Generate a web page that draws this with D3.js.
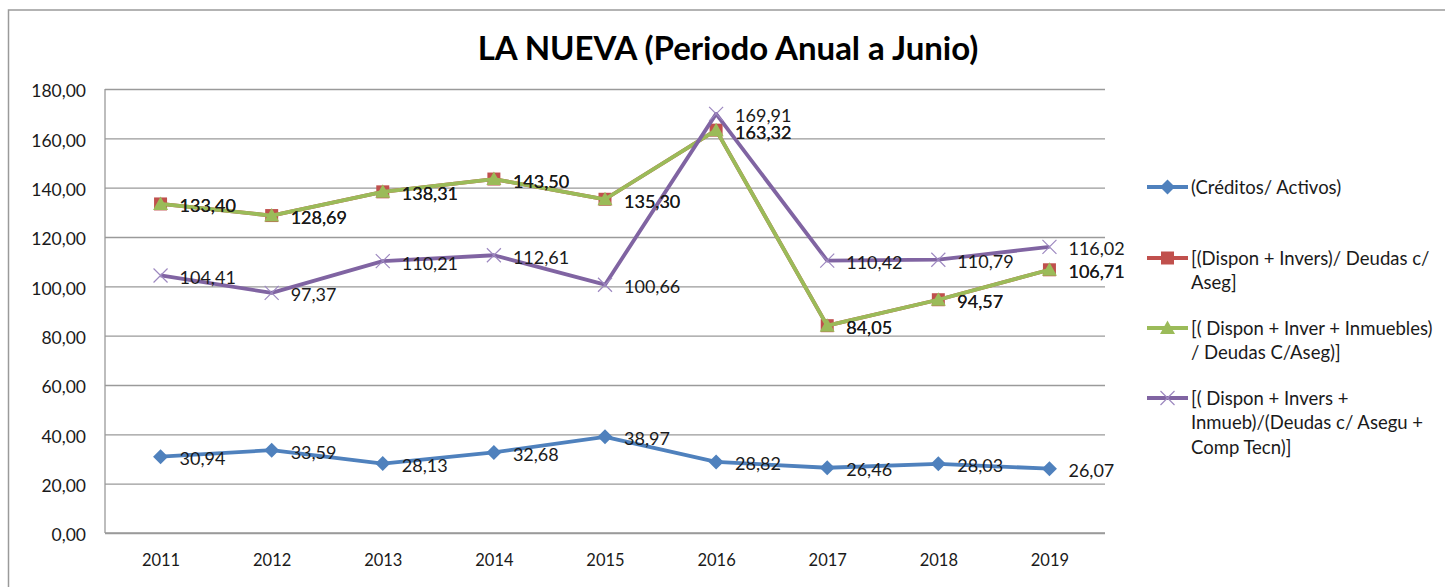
<!DOCTYPE html>
<html>
<head>
<meta charset="utf-8">
<script src="https://cdn.jsdelivr.net/npm/d3@7"></script>
<style>
  body { margin: 0; background: #fff; overflow: hidden; }
  text { font-family: Lato, "Open Sans", sans-serif; fill: #1a1a1a; }
</style>
</head>
<body>
<script>
var width = 1445,
    height = 587;

var margin = {top: 89, right: 340, bottom: 54, left: 105},
    graphWidth = width - margin.left - margin.right,
    graphHeight = height - margin.top - margin.bottom;

// data
var years = ["2011", "2012", "2013", "2014", "2015", "2016", "2017", "2018", "2019"];
var creditos = [30.94, 33.59, 28.13, 32.68, 38.97, 28.82, 26.46, 28.03, 26.07];
var disponInvers = [133.40, 128.69, 138.31, 143.50, 135.30, 163.32, 84.05, 94.57, 106.71];
var disponInmuebles = [133.40, 128.69, 138.31, 143.50, 135.30, 163.32, 84.05, 94.57, 106.71];
var disponCompTecn = [104.41, 97.37, 110.21, 112.61, 100.66, 169.91, 110.42, 110.79, 116.02];
var yTicks = [0, 20, 40, 60, 80, 100, 120, 140, 160, 180];
var legendLabels = [
  ["(Créditos/ Activos)"],
  ["[(Dispon + Invers)/ Deudas c/", "Aseg]"],
  ["[( Dispon + Inver + Inmuebles)", "/ Deudas C/Aseg)]"],
  ["[( Dispon + Invers +", "Inmueb)/(Deudas c/ Asegu +", "Comp Tecn)]"]
];

var series = [
  {values: creditos, color: "#4f81bd", marker: "diamond"},
  {values: disponInvers, color: "#c0504d", marker: "square"},
  {values: disponInmuebles, color: "#9bbb59", marker: "triangle"},
  {values: disponCompTecn, color: "#8064a2", marker: "cross"}
];

var es = d3.formatLocale({decimal: ",", thousands: ".", grouping: [3], currency: ["", ""]});
var fmt = es.format(".2f");

var svg = d3.select("body").append("svg")
  .attr("width", width)
  .attr("height", height)
  .attr("id", "canvas");

// chart frame (only left and top edges are inside the picture)
svg.append("path")
  .attr("d", "M8.5,600V10H1445")
  .attr("fill", "none")
  .attr("stroke", "#9a9a9a")
  .attr("stroke-width", 1.5);

svg.append("text")
  .attr("x", 728)
  .attr("y", 60)
  .attr("text-anchor", "middle")
  .style("font-size", "33px")
  .style("font-weight", "bold")
  .style("fill", "#000")
  .text("LA NUEVA (Periodo Anual a Junio)");

var g = svg.append("g")
  .attr("transform", "translate(" + margin.left + "," + margin.top + ")")
  .attr("id", "graph");

var xScale = d3.scalePoint()
  .domain(years)
  .range([0, graphWidth])
  .padding(0.5);

var yScale = d3.scaleLinear()
  .domain([0, 180])
  .range([graphHeight, 0]);

var yAxisCall = d3.axisLeft(yScale)
  .tickValues(yTicks)
  .tickFormat(fmt)
  .tickSizeInner(-graphWidth)
  .tickSizeOuter(0)
  .tickPadding(19);

var yAxis = g.append("g")
  .attr("class", "y-axis")
  .call(yAxisCall);
yAxis.select(".domain").remove();
yAxis.selectAll("line").attr("stroke", "#9a9a9a").attr("stroke-width", 1.3);
yAxis.selectAll("text")
  .attr("dy", "0.45em")
  .style("font-size", "17.5px")
  .style("font-family", "Lato, sans-serif");

var xAxisCall = d3.axisBottom(xScale)
  .tickSize(0)
  .tickPadding(21);

var xAxis = g.append("g")
  .attr("class", "x-axis")
  .attr("transform", "translate(0," + graphHeight + ")")
  .call(xAxisCall);
xAxis.select(".domain").remove();
xAxis.selectAll("text")
  .style("font-size", "16.5px")
  .style("font-family", "Lato, sans-serif");

// plot area left and bottom edges
g.append("line")
  .attr("x1", 0).attr("x2", 0)
  .attr("y1", 0).attr("y2", graphHeight)
  .attr("stroke", "#9a9a9a").attr("stroke-width", 1.3);
g.append("line")
  .attr("x1", 0).attr("x2", graphWidth)
  .attr("y1", graphHeight).attr("y2", graphHeight)
  .attr("stroke", "#9a9a9a").attr("stroke-width", 1.3);

function markerPath(type) {
  if (type == "diamond") return "M0,-7.5L7.5,0L0,7.5L-7.5,0Z";
  if (type == "square") return "M-6.5,-6.5H6.5V6.5H-6.5Z";
  if (type == "triangle") return "M0,-7.5L7.5,6L-7.5,6Z";
  return "M-7,-7L7,7M-7,7L7,-7";
}

function drawMarker(sel, s) {
  if (s.marker == "cross") {
    sel.attr("d", markerPath(s.marker))
      .attr("fill", "none")
      .attr("stroke", "#9d88c0")
      .attr("stroke-width", 1.2);
  } else {
    sel.attr("d", markerPath(s.marker))
      .attr("fill", s.color)
      .attr("stroke", "none");
  }
}

var line = d3.line()
  .x(function(d, i) { return xScale(years[i]); })
  .y(function(d) { return yScale(d); });

series.forEach(function(s) {
  g.append("path")
    .datum(s.values)
    .attr("d", line)
    .attr("fill", "none")
    .attr("stroke", s.color)
    .attr("stroke-width", 3.8)
    .attr("stroke-linejoin", "round");

  g.selectAll(null)
    .data(s.values)
    .enter().append("path")
      .attr("transform", function(d, i) {
        return "translate(" + xScale(years[i]) + "," + yScale(d) + ")";
      })
      .call(drawMarker, s);
});

// data labels on top
series.forEach(function(s) {
  g.selectAll(null)
    .data(s.values)
    .enter().append("text")
      .attr("x", function(d, i) { return xScale(years[i]) + 19; })
      .attr("y", function(d) { return yScale(d) + 2; })
      .attr("dy", "0.36em")
      .style("font-size", "18px")
      .text(function(d) { return fmt(d); });
});

// legend
var legend = svg.append("g")
  .attr("transform", "translate(1147,0)");
var legendY = [187, 258, 328, 398];

series.forEach(function(s, i) {
  var item = legend.append("g")
    .attr("transform", "translate(0," + legendY[i] + ")");
  item.append("line")
    .attr("x1", 0).attr("x2", 41)
    .attr("stroke", s.color)
    .attr("stroke-width", 3.8);
  item.append("path")
    .attr("transform", "translate(20.5,0)")
    .call(drawMarker, s);
  item.selectAll("text")
    .data(legendLabels[i])
    .enter().append("text")
      .attr("x", 44)
      .attr("y", function(d, j) { return j * 24.5; })
      .attr("dy", "0.36em")
      .style("font-size", "18.5px")
      .text(function(d) { return d; });
});
</script>
</body>
</html>
